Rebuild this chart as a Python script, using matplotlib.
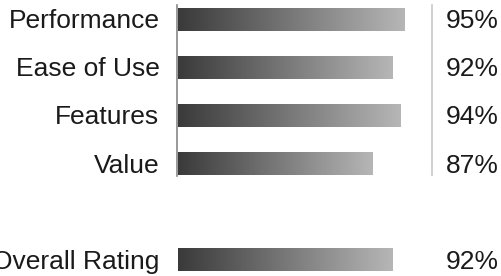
import numpy as np
import matplotlib
matplotlib.use('Agg')
import matplotlib.pyplot as plt
from matplotlib.colors import LinearSegmentedColormap

# dados
categorias = ['Performance', 'Ease of Use', 'Features', 'Value']
valores = [95, 92, 94, 87]
geral_nome = 'Overall Rating'
geral_valor = 92

linhas = [0, 1, 2, 3]
linha_geral = 5

plt.rcParams['font.family'] = ['Liberation Sans', 'DejaVu Sans']

fig = plt.figure(figsize=(5.01, 2.76), dpi=100)
ax = fig.add_axes([0, 0, 1, 1])
ax.axis('off')

inicio = 38.25
altura = 0.46
cmap = LinearSegmentedColormap.from_list('cinza', ['#3a3a3a', '#b6b6b6'])
grad = np.linspace(0, 1, 256).reshape(1, -1)


def barra(y, v, nome):
    ax.imshow(grad, cmap=cmap, aspect='auto', interpolation='bilinear',
              extent=(inicio, v, y + altura / 2, y - altura / 2), zorder=2)
    # o rótulo "Overall Rating" fica cortado na borda, como no original
    ax.text(33.6, y - 0.015, nome, ha='right', va='center_baseline', fontsize=19, color='#1a1a1a')
    ax.text(105.2, y - 0.015, str(v) + '%', ha='left', va='center_baseline', fontsize=19, color='#1a1a1a')


for y, v, nome in zip(linhas, valores, categorias):
    barra(y, v, nome)
barra(linha_geral, geral_valor, geral_nome)

# linhas verticais
ax.plot([38.1, 38.1], [-0.3, 3.25], color='#888888', lw=1.2, zorder=3)
ax.plot([101.75, 101.75], [-0.3, 3.23], color='#c8c8c8', lw=1.2, zorder=3)

ax.set_xlim(-6.25, 119)
ax.set_ylim(5.333, -0.405)

fig.savefig('out.png', dpi=100)
